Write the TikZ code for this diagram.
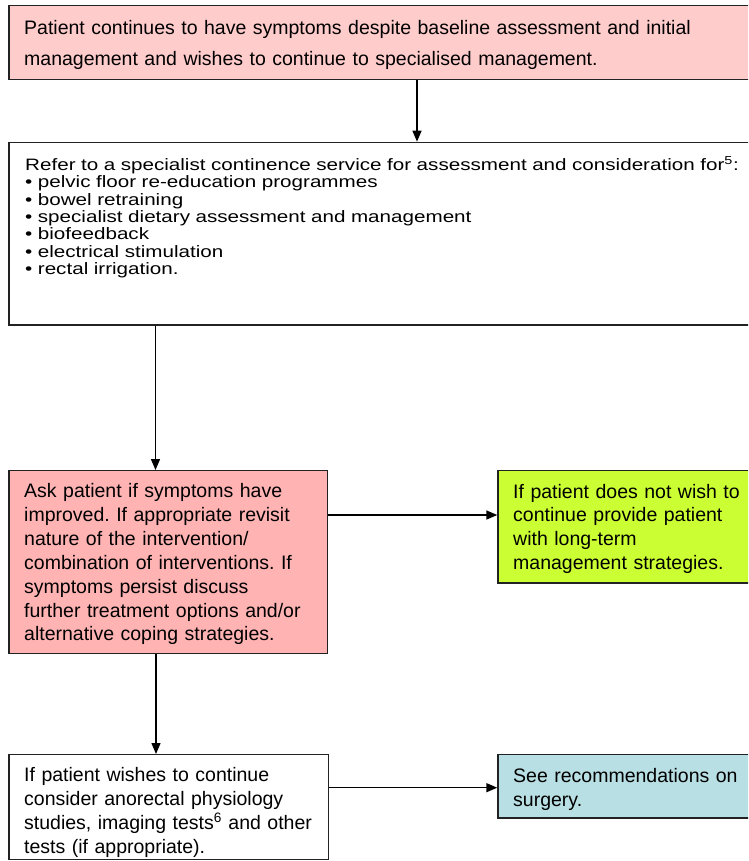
\documentclass[tikz,border=0pt]{standalone}
\usepackage{fontspec}
\setmainfont{Liberation Sans}
\newfontfamily\widefont[FakeStretch=1.25]{Liberation Sans}
\usetikzlibrary{arrows.meta}
\definecolor{pinkA}{HTML}{FFCCCC}
\definecolor{pinkB}{HTML}{FFB3B3}
\definecolor{limeC}{HTML}{CCFF33}
\definecolor{blueD}{HTML}{B8DFE3}
\definecolor{edgeC}{HTML}{222222}
\begin{document}
\frenchspacing
\lineskiplimit=-50pt\relax
\begin{tikzpicture}[x=1pt,y=-1pt,
  box/.style={draw=edgeC, line width=1.4pt, inner sep=0pt, anchor=north west, rectangle},
  txt/.style={inner sep=0pt, anchor=base west, align=left, text width=#1},
  txt/.default=720pt,
  arr/.style={draw=black, line width=1.4pt, -{Triangle[length=11pt,width=9pt]}}]
\useasboundingbox (0,0) rectangle (748,861);
\clip (0,0) rectangle (748,861);
\fill[white] (0,0) rectangle (748,861);
% boxes
\node[box, fill=pinkA, minimum width=752pt, minimum height=74pt] (b1) at (8.3,4.7) {};
\node[box, fill=white, minimum width=752pt, minimum height=182.5pt] (b2) at (8.3,141.7) {};
\node[box, fill=pinkB, minimum width=318.5pt, minimum height=182.7pt] (b3) at (8.3,470) {};
\node[box, fill=limeC, minimum width=262pt, minimum height=112.3pt] (b4) at (497.3,470) {};
\node[box, fill=white, minimum width=319.4pt, minimum height=105pt] (b5) at (8.3,754) {};
\node[box, fill=blueD, minimum width=262pt, minimum height=63.3pt] (b6) at (497.3,754) {};
% texts
\node[txt, font=\fontsize{19.5}{31}\selectfont] (t1) at (24,35)
  {Patient continues to have symptoms despite baseline assessment and initial\\management and wishes to continue to specialised management.};
\node[txt, font=\widefont\fontsize{16.5}{17.4}\selectfont] (t2) at (25,170.3)
  {Refer to a specialist continence service for assessment and consideration for\textsuperscript{5}:\\
   \textbullet{} pelvic floor re-education programmes\\
   \textbullet{} bowel retraining\\
   \textbullet{} specialist dietary assessment and management\\
   \textbullet{} biofeedback\\
   \textbullet{} electrical stimulation\\
   \textbullet{} rectal irrigation.};
\node[txt=300pt, font=\fontsize{19.5}{23.9}\selectfont] (t3) at (24,497.5)
  {Ask patient if symptoms have\\improved. If appropriate revisit\\nature of the intervention/\\combination of interventions. If\\symptoms persist discuss\\further treatment options and/or\\alternative coping strategies.};
\node[txt=240pt, font=\fontsize{19.5}{23.7}\selectfont] (t4) at (513,498)
  {If patient does not wish to\\continue provide patient\\with long-term\\management strategies.};
\node[txt=300pt, font=\fontsize{19.5}{24.1}\selectfont] (t5) at (24,781.5)
  {If patient wishes to continue\\consider anorectal physiology\\studies, imaging tests\textsuperscript{6} and other\\tests (if appropriate).};
\node[txt=240pt, font=\fontsize{19.5}{24.3}\selectfont] (t6) at (513,782)
  {See recommendations on\\surgery.};
% connectors
\coordinate (a1) at (417,0);
\coordinate (a2) at (155.5,0);
\coordinate (a3) at (0,515);
\coordinate (a4) at (156,0);
\coordinate (a5) at (0,787.7);
\draw[arr] (b1.south -| a1) -- (b2.north -| a1);
\draw[arr] (b2.south -| a2) -- (b3.north -| a2);
\draw[arr] (b3.east |- a3) -- (b4.west |- a3);
\draw[arr] (b3.south -| a4) -- (b5.north -| a4);
\draw[arr] (b5.east |- a5) -- (b6.west |- a5);
\end{tikzpicture}
\end{document}
